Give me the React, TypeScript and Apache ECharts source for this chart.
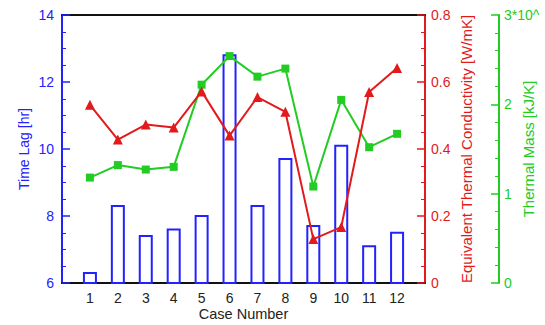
import React, { useEffect, useRef } from "react";
import * as echarts from "echarts";

const cases = [1, 2, 3, 4, 5, 6, 7, 8, 9, 10, 11, 12];
const timeLag = [6.3, 8.3, 7.4, 7.6, 8.0, 12.8, 8.3, 9.7, 7.7, 10.1, 7.1, 7.5];
const conductivity = [0.532, 0.428, 0.473, 0.464, 0.572, 0.44, 0.555, 0.511, 0.131, 0.167, 0.57, 0.642];
const thermalMass = [1.18, 1.32, 1.27, 1.3, 2.22, 2.54, 2.31, 2.4, 1.08, 2.05, 1.52, 1.67];

const BLUE = "#2222ff";
const RED = "#e31a1c";
const GREEN = "#22cc22";
const FONT = "Liberation Sans, Arial, sans-serif";

export default function App() {
  const ref = useRef<HTMLDivElement>(null);
  useEffect(() => {
    if (!ref.current) return;
    const chart = echarts.init(ref.current, undefined, { renderer: "svg" });
    const yBase = (color: string, split: number, nameSize: number) => ({
      type: "value" as const,
      axisLine: { show: true, onZero: false, lineStyle: { color, width: 2 } },
      axisTick: { show: true, inside: true, length: 8, lineStyle: { color, width: 1.5 } },
      minorTick: { show: true, splitNumber: split, length: 4, lineStyle: { color, width: 1 } },
      splitLine: { show: false },
      nameLocation: "middle" as const,
      nameRotate: 90,
      nameMoveOverlap: false,
      nameTextStyle: { color, fontSize: nameSize, fontFamily: FONT },
    });
    chart.setOption({
      animation: false,
      grid: { left: 62, right: 120, top: 15, bottom: 42, outerBoundsMode: "none", containLabel: false },
      xAxis: [
        {
          type: "value",
          min: 0,
          max: 13,
          interval: 1,
          position: "bottom",
          axisLine: { show: true, onZero: false, lineStyle: { color: "#111", width: 2 } },
          axisTick: { show: false },
          splitLine: { show: false },
          axisLabel: {
            color: "#222",
            fontSize: 14,
            fontFamily: FONT,
            margin: 8,
            formatter: (v: number) => (v >= 1 && v <= 12 ? String(v) : ""),
          },
          name: "Case Number",
          nameLocation: "middle",
          nameGap: 23,
          nameMoveOverlap: false,
          nameTextStyle: { color: "#222", fontSize: 14.5, fontFamily: FONT },
        },
        {
          type: "value",
          min: 0,
          max: 13,
          position: "top",
          axisLine: { show: true, onZero: false, lineStyle: { color: "#111", width: 2 } },
          axisTick: { show: false },
          axisLabel: { show: false },
          splitLine: { show: false },
        },
      ],
      yAxis: [
        {
          ...yBase(BLUE, 4, 14),
          position: "left",
          min: 6,
          max: 14,
          interval: 2,
          name: "Time Lag [hr]",
          nameGap: 31,
          axisLabel: { color: BLUE, fontSize: 14, fontFamily: FONT, margin: 8 },
        },
        {
          ...yBase(RED, 4, 15),
          position: "right",
          min: 0,
          max: 0.8,
          interval: 0.2,
          axisLabel: {
            color: RED,
            fontSize: 14,
            fontFamily: FONT,
            margin: 6,
            formatter: (v: number) => (v === 0 ? "0" : v.toFixed(1)),
          },
          name: "Equivalent Thermal Conductivity [W/mK]",
          nameGap: 34,
        },
        {
          ...yBase(GREEN, 5, 15),
          position: "right",
          offset: 74,
          min: 0,
          max: 3,
          interval: 1,
          axisLabel: {
            color: GREEN,
            fontSize: 14,
            fontFamily: FONT,
            margin: 5,
            formatter: (v: number) => (v === 3 ? "3*10^" : String(v)),
          },
          name: "Thermal Mass [kJ/K]",
          nameGap: 22,
        },
      ],
      series: [
        {
          type: "custom",
          xAxisIndex: 0,
          yAxisIndex: 0,
          data: cases.map((c, i) => [c, timeLag[i]]),
          renderItem: (params: any, api: any) => {
            const x = api.value(0);
            const v = api.value(1);
            const top = api.coord([x, v]);
            const bottom = api.coord([x, 6]);
            const w = 12;
            return {
              type: "rect",
              shape: { x: top[0] - w / 2, y: top[1], width: w, height: bottom[1] - top[1] },
              style: { fill: "none", stroke: BLUE, lineWidth: 2 },
            };
          },
          z: 1,
        },
        {
          type: "line",
          xAxisIndex: 0,
          yAxisIndex: 1,
          data: cases.map((c, i) => [c, conductivity[i]]),
          symbol: "triangle",
          symbolSize: 10,
          lineStyle: { color: RED, width: 2 },
          itemStyle: { color: RED },
          z: 3,
        },
        {
          type: "line",
          xAxisIndex: 0,
          yAxisIndex: 2,
          data: cases.map((c, i) => [c, thermalMass[i]]),
          symbol: "rect",
          symbolSize: 8,
          lineStyle: { color: GREEN, width: 2 },
          itemStyle: { color: GREEN },
          z: 2,
        },
      ],
    });
    return () => chart.dispose();
  }, []);
  return (
    <div
      ref={ref}
      style={{ position: "fixed", left: 0, top: 0, width: 545, height: 325, background: "#fff" }}
    />
  );
}
